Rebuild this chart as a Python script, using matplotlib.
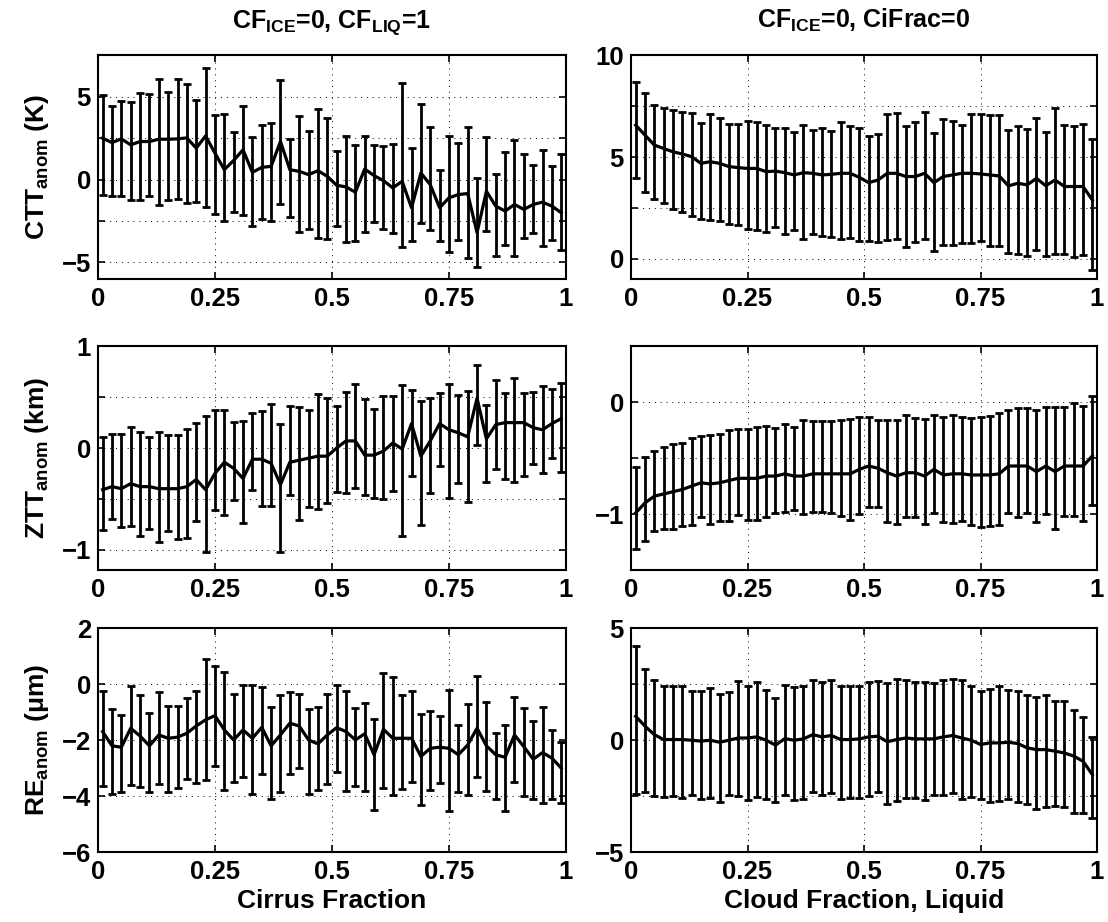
import matplotlib
matplotlib.use("Agg")
import matplotlib.pyplot as plt
import numpy as np

plt.rcParams['font.family'] = ['Liberation Sans', 'DejaVu Sans']
plt.rcParams['font.weight'] = 'bold'
plt.rcParams['mathtext.fontset'] = 'custom'
plt.rcParams['mathtext.rm'] = 'Liberation Sans:bold'
plt.rcParams['mathtext.bf'] = 'Liberation Sans:bold'
plt.rcParams['axes.unicode_minus'] = True

# bin centres of the fraction axis (50 bins of width 0.02)
edges = np.linspace(0, 1, 51)
x = (edges[:-1] + edges[1:]) / 2

# --- CTT anomaly (K), left: CF_ICE=0, CF_LIQ=1 vs cirrus fraction
ctt_l_mean = [2.50, 2.24, 2.46, 2.10, 2.30, 2.30, 2.44, 2.44, 2.46, 2.52,
              1.90, 2.64, 1.60, 0.60, 1.16, 1.80, 0.44, 0.74, 0.80, 2.30,
              0.60, 0.50, 0.30, 0.54, 0.20, -0.34, -0.44, -0.76, 0.64, 0.24,
              -0.06, -0.50, -0.10, -1.70, 0.40, -0.30, -1.70, -1.10, -0.90, -0.84,
              -3.20, -0.70, -1.60, -1.90, -1.50, -1.80, -1.50, -1.36, -1.60, -2.00]
ctt_l_hi = [5.10, 4.44, 4.76, 4.70, 5.24, 5.16, 6.06, 5.30, 6.06, 5.80,
            4.80, 6.76, 3.90, 3.96, 2.90, 4.44, 2.56, 3.30, 3.40, 6.00,
            2.44, 3.84, 2.96, 4.26, 3.70, 1.70, 2.66, 2.10, 2.64, 2.10,
            2.04, 2.16, 5.86, 1.90, 4.54, 3.16, 0.56, 2.64, 2.24, 3.16,
            0.10, 2.56, 0.34, 1.64, 2.40, 1.54, 0.86, 1.80, 0.80, 1.54]
ctt_l_lo = [-0.90, -1.00, -1.00, -1.20, -1.24, -1.00, -1.56, -1.26, -1.16, -1.44,
            -1.34, -1.64, -2.10, -2.50, -1.96, -2.16, -2.80, -2.40, -2.50, -1.50,
            -2.24, -3.16, -3.00, -3.50, -3.60, -2.80, -3.76, -3.70, -3.16, -2.56,
            -3.00, -3.20, -4.04, -3.70, -2.60, -3.04, -3.70, -4.40, -3.64, -4.74,
            -5.26, -3.10, -4.64, -3.96, -4.64, -3.52, -3.24, -4.00, -3.66, -4.26]

# --- CTT anomaly (K), right: CF_ICE=0, CiFrac=0 vs liquid cloud fraction
ctt_r_mean = [6.57, 6.08, 5.59, 5.42, 5.26, 5.15, 5.02, 4.69, 4.77, 4.69,
              4.53, 4.48, 4.44, 4.44, 4.28, 4.31, 4.23, 4.12, 4.23, 4.20,
              4.12, 4.15, 4.20, 4.20, 4.00, 3.74, 3.87, 4.20, 4.20, 4.04,
              4.04, 4.20, 3.74, 4.04, 4.12, 4.20, 4.20, 4.17, 4.12, 4.07,
              3.58, 3.71, 3.63, 3.95, 3.59, 3.87, 3.55, 3.55, 3.55, 2.89]
ctt_r_hi = [8.69, 8.17, 7.58, 7.42, 7.30, 7.22, 7.19, 6.68, 7.14, 6.93,
            6.65, 6.62, 6.76, 6.73, 6.57, 6.45, 6.41, 6.24, 6.57, 6.32,
            6.45, 6.29, 6.73, 6.52, 6.45, 6.03, 6.11, 7.11, 7.19, 6.52,
            6.73, 7.22, 6.19, 6.86, 6.78, 6.57, 7.11, 7.11, 7.06, 7.06,
            6.32, 6.52, 6.36, 6.90, 6.24, 7.39, 6.57, 6.52, 6.62, 5.88]
ctt_r_lo = [3.99, 3.30, 2.92, 2.73, 2.43, 2.32, 2.08, 1.94, 1.91, 1.83,
            1.72, 1.67, 1.45, 1.42, 1.29, 1.54, 1.21, 1.39, 0.98, 1.21,
            1.13, 1.09, 0.96, 1.01, 0.85, 0.85, 0.82, 0.93, 0.96, 0.56,
            0.82, 0.96, 0.39, 0.65, 0.65, 0.77, 0.77, 0.85, 0.64, 0.64,
            0.28, 0.23, 0.15, 0.44, 0.11, 0.23, 0.23, 0.07, 0.20, -0.54]

# --- ZTT anomaly (km), left
ztt_l_mean = [-0.41, -0.38, -0.40, -0.35, -0.38, -0.38, -0.40, -0.40, -0.40, -0.38,
              -0.31, -0.41, -0.25, -0.14, -0.20, -0.30, -0.11, -0.11, -0.15, -0.36,
              -0.14, -0.12, -0.10, -0.08, -0.08, 0.00, 0.07, 0.07, -0.07, -0.07,
              -0.03, 0.05, -0.01, 0.24, -0.08, 0.07, 0.24, 0.18, 0.15, 0.11,
              0.49, 0.09, 0.23, 0.25, 0.25, 0.25, 0.20, 0.18, 0.24, 0.29]
ztt_l_hi = [0.11, 0.14, 0.14, 0.21, 0.16, 0.11, 0.16, 0.13, 0.13, 0.19,
            0.25, 0.32, 0.37, 0.37, 0.26, 0.27, 0.34, 0.36, 0.43, 0.24,
            0.41, 0.40, 0.37, 0.53, 0.49, 0.41, 0.55, 0.63, 0.48, 0.38,
            0.51, 0.51, 0.62, 0.57, 0.46, 0.49, 0.54, 0.63, 0.52, 0.56,
            0.82, 0.42, 0.67, 0.54, 0.69, 0.54, 0.55, 0.61, 0.58, 0.64]
ztt_l_lo = [-0.81, -0.70, -0.78, -0.77, -0.87, -0.80, -0.92, -0.82, -0.90, -0.89,
            -0.72, -1.02, -0.61, -0.66, -0.51, -0.74, -0.41, -0.57, -0.57, -1.02,
            -0.46, -0.71, -0.58, -0.60, -0.54, -0.43, -0.44, -0.39, -0.46, -0.49,
            -0.50, -0.42, -0.87, -0.28, -0.76, -0.44, -0.18, -0.49, -0.34, -0.53,
            0.03, -0.33, -0.21, -0.30, -0.33, -0.28, -0.16, -0.25, -0.10, -0.24]

# --- ZTT anomaly (km), right
ztt_r_mean = [-0.99, -0.90, -0.84, -0.82, -0.80, -0.78, -0.75, -0.72, -0.73, -0.72,
              -0.70, -0.68, -0.68, -0.68, -0.66, -0.66, -0.64, -0.66, -0.66, -0.64,
              -0.64, -0.64, -0.64, -0.64, -0.60, -0.57, -0.59, -0.63, -0.66, -0.63,
              -0.63, -0.66, -0.60, -0.65, -0.64, -0.64, -0.65, -0.65, -0.65, -0.64,
              -0.57, -0.57, -0.57, -0.62, -0.57, -0.62, -0.57, -0.57, -0.57, -0.48]
ztt_r_hi = [-0.58, -0.49, -0.44, -0.40, -0.37, -0.36, -0.32, -0.30, -0.29, -0.28,
            -0.25, -0.24, -0.24, -0.22, -0.21, -0.23, -0.19, -0.22, -0.16, -0.17,
            -0.17, -0.17, -0.16, -0.15, -0.13, -0.13, -0.16, -0.16, -0.16, -0.11,
            -0.14, -0.15, -0.11, -0.13, -0.11, -0.13, -0.14, -0.13, -0.12, -0.10,
            -0.07, -0.05, -0.05, -0.07, -0.04, -0.04, -0.04, -0.01, -0.03, 0.06]
ztt_r_lo = [-1.31, -1.24, -1.15, -1.13, -1.13, -1.11, -1.10, -1.03, -1.09, -1.06,
            -1.06, -1.01, -1.05, -1.05, -1.03, -0.99, -0.98, -0.96, -1.00, -0.98,
            -0.98, -0.99, -1.02, -1.05, -1.00, -0.94, -0.94, -1.07, -1.09, -1.03,
            -1.03, -1.09, -0.99, -1.07, -1.08, -1.06, -1.10, -1.12, -1.11, -1.10,
            -0.99, -1.03, -0.99, -1.07, -1.00, -1.13, -1.02, -1.02, -1.06, -0.92]

# --- RE anomaly (um), left
re_l_mean = [-1.69, -2.20, -2.25, -1.57, -1.85, -2.20, -1.81, -1.93, -1.89, -1.75,
             -1.49, -1.27, -1.12, -1.63, -1.99, -1.63, -1.93, -1.54, -2.20, -1.81,
             -1.39, -1.49, -1.99, -2.13, -1.81, -1.55, -1.69, -1.99, -1.77, -2.52,
             -1.61, -1.93, -1.93, -1.93, -2.58, -2.29, -2.25, -2.29, -2.52, -2.17,
             -1.57, -2.20, -2.52, -2.61, -1.81, -2.23, -2.68, -2.44, -2.64, -3.00]
re_l_hi = [-0.23, -0.89, -1.10, -0.05, -0.38, -1.02, -0.26, -0.77, -0.77, -0.50,
           -0.23, 0.89, 0.67, 0.43, -0.35, -0.02, -0.02, -0.11, -0.82, -0.38,
           -0.26, -0.35, -0.89, -0.80, -0.35, -0.02, -0.24, -0.83, -0.68, -1.23,
           0.42, 0.27, -0.38, -0.23, -1.07, -0.94, -1.15, -0.20, -1.45, -0.71,
           0.31, -0.65, -1.75, -1.45, -0.46, -0.83, -1.30, -0.82, -1.63, -2.08]
re_l_lo = [-3.62, -3.92, -3.86, -3.60, -3.68, -3.87, -3.56, -3.87, -3.71, -3.39,
           -3.54, -3.42, -2.94, -3.77, -3.51, -3.30, -3.93, -3.21, -4.11, -3.86,
           -3.20, -3.00, -3.92, -3.77, -3.57, -3.15, -3.80, -3.62, -3.83, -4.49,
           -3.71, -3.95, -3.75, -3.50, -4.31, -3.77, -3.54, -4.52, -3.87, -3.95,
           -3.33, -3.81, -4.11, -4.55, -3.48, -3.99, -4.10, -4.25, -4.10, -4.23]

# --- RE anomaly (um), right
re_r_mean = [1.07, 0.63, 0.25, 0.03, 0.03, 0.03, 0.00, -0.04, 0.00, -0.09,
             0.00, 0.10, 0.10, 0.15, 0.00, -0.22, 0.07, 0.00, 0.06, 0.25,
             0.15, 0.21, 0.03, 0.03, 0.06, 0.15, 0.18, -0.07, 0.03, 0.10,
             0.06, 0.06, 0.06, 0.15, 0.21, 0.10, 0.00, -0.19, -0.12, -0.12,
             -0.09, -0.15, -0.34, -0.42, -0.42, -0.49, -0.57, -0.71, -0.94, -1.54]
re_r_hi = [4.23, 3.19, 2.68, 2.44, 2.44, 2.41, 2.22, 2.22, 2.34, 2.07,
           2.14, 2.63, 2.41, 2.59, 2.23, 1.89, 2.48, 2.36, 2.44, 2.68,
           2.59, 2.71, 2.41, 2.41, 2.44, 2.59, 2.63, 2.56, 2.74, 2.68,
           2.59, 2.59, 2.56, 2.68, 2.74, 2.68, 2.41, 2.19, 2.31, 2.41,
           2.26, 2.19, 2.04, 1.93, 2.04, 1.74, 1.77, 1.34, 1.03, 0.13]
re_r_lo = [-2.41, -2.31, -2.50, -2.54, -2.50, -2.60, -2.43, -2.62, -2.57, -2.77,
           -2.47, -2.50, -2.69, -2.53, -2.65, -2.77, -2.44, -2.69, -2.65, -2.31,
           -2.47, -2.38, -2.62, -2.57, -2.60, -2.50, -2.31, -2.84, -2.72, -2.57,
           -2.60, -2.69, -2.43, -2.43, -2.38, -2.65, -2.54, -2.65, -2.77, -2.72,
           -2.65, -2.75, -2.83, -3.07, -2.99, -2.95, -2.99, -3.24, -3.27, -3.50]

xticks = [0, 0.25, 0.5, 0.75, 1]
xticklabels = ['0', '0.25', '0.5', '0.75', '1']

panels = [
    # (row, col, mean, lo, hi, ylim, yticks, yticklabels)
    (0, 0, ctt_l_mean, ctt_l_lo, ctt_l_hi, (-6, 7.5), [-5, -2.5, 0, 2.5, 5], ['\u22125', '', '0', '', '5']),
    (0, 1, ctt_r_mean, ctt_r_lo, ctt_r_hi, (-1, 10), [0, 2.5, 5, 7.5, 10], ['0', '', '5', '', '10']),
    (1, 0, ztt_l_mean, ztt_l_lo, ztt_l_hi, (-1.2, 1), [-1, -0.5, 0, 0.5, 1], ['\u22121', '', '0', '', '1']),
    (1, 1, ztt_r_mean, ztt_r_lo, ztt_r_hi, (-1.5, 0.5), [-1, -0.5, 0], ['\u22121', '', '0']),
    (2, 0, re_l_mean, re_l_lo, re_l_hi, (-6, 2), [-6, -4, -2, 0, 2], ['\u22126', '\u22124', '\u22122', '0', '2']),
    (2, 1, re_r_mean, re_r_lo, re_r_hi, (-5, 5), [-5, -2.5, 0, 2.5, 5], ['\u22125', '', '0', '', '5']),
]

ylabels = [r'CTT$_{\mathbf{anom}}$ (K)', r'ZTT$_{\mathbf{anom}}$ (km)', 'RE$_{\\mathbf{anom}}$ (\u03bcm)']
titles = [r'CF$_{\mathbf{ICE}}$=0, CF$_{\mathbf{LIQ}}$=1', r'CF$_{\mathbf{ICE}}$=0, CiFrac=0']
xlabels = ['Cirrus Fraction', 'Cloud Fraction, Liquid']

fig = plt.figure(figsize=(11.08, 9.22), dpi=100)
lefts = [0.0884, 0.5695]
widths = [0.4224, 0.4206]
bottoms = [0.6974, 0.3818, 0.0759]
height = 0.2425

for row, col, m, lo, hi, ylim, yt, ytl in panels:
    ax = fig.add_axes([lefts[col], bottoms[row], widths[col], height])
    m = np.array(m)
    err = np.clip([m - np.array(lo), np.array(hi) - m], 0, None)
    ax.errorbar(x, m, yerr=err, color='k', lw=2.3, elinewidth=2.0,
                capsize=2.8, capthick=2.0)
    ax.set_xlim(0, 1)
    ax.set_ylim(*ylim)
    ax.set_xticks(xticks)
    ax.set_xticklabels(xticklabels)
    ax.set_yticks(yt)
    ax.set_yticklabels(ytl)
    ax.grid(True, color='k', linestyle=(0, (1, 5)), lw=0.7)
    ax.tick_params(direction='in', top=True, right=True, length=5, width=1.2,
                   labelsize=18.5)
    ax.tick_params(axis='y', pad=5)
    ax.tick_params(axis='x', pad=6)
    for s in ax.spines.values():
        s.set_linewidth(1.5)
    if col == 0:
        ax.set_ylabel(ylabels[row], fontsize=19, fontweight='bold', labelpad=8)
    if row == 0:
        ax.set_title(titles[col], fontsize=18, fontweight='bold', pad=20)
    if row == 2:
        ax.set_xlabel(xlabels[col], fontsize=19, fontweight='bold', labelpad=3)

fig.savefig('out.png', dpi=100)
